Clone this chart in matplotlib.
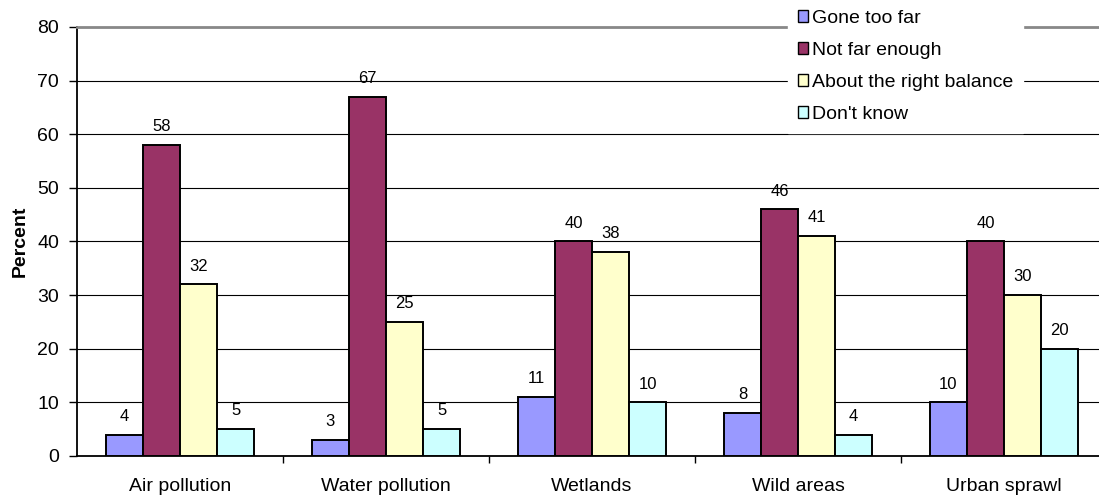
import numpy as np
import matplotlib.pyplot as plt

plt.rcParams['font.family'] = ['Liberation Sans', 'DejaVu Sans']

categories = ['Air pollution', 'Water pollution', 'Wetlands', 'Wild areas', 'Urban sprawl']
series_names = ['Gone too far', 'Not far enough', 'About the right balance', "Don't know"]
gone_too_far = [4, 3, 11, 8, 10]
not_far_enough = [58, 67, 40, 46, 40]
right_balance = [32, 25, 38, 41, 30]
dont_know = [5, 5, 10, 4, 20]
colors = ['#9999FF', '#993366', '#FFFFCC', '#CCFFFF']

fig = plt.figure(figsize=(10.99, 4.97), dpi=100)
ax = fig.add_axes([77/1099, 1 - 456/497, 1030/1099, 429/497])

x = np.arange(len(categories))
w = 0.18
all_series = [gone_too_far, not_far_enough, right_balance, dont_know]
for i, (vals, name, c) in enumerate(zip(all_series, series_names, colors)):
    bars = ax.bar(x + (i - 1.5) * w, vals, w, color=c, edgecolor='black', linewidth=1.4,
                  label=name, zorder=3)
    for b, v in zip(bars, vals):
        ax.text(b.get_x() + b.get_width() / 2, v + 2.0, str(v), ha='center', va='bottom',
                fontsize=12)

ax.set_xlim(-0.5, len(categories) - 0.5)
ax.set_ylim(0, 80)
ax.set_yticks(range(0, 81, 10))
ax.set_xticks(x)
ax.set_xticklabels(categories, fontsize=14)
ax.set_xticks(np.arange(len(categories)) + 0.5, minor=True)
ax.tick_params(axis='x', which='major', length=0, pad=16)
ax.tick_params(axis='x', which='minor', length=5, width=1, color='black')
ax.tick_params(axis='y', length=6, width=1, labelsize=14, pad=7)
ax.grid(axis='y', color='black', linewidth=0.8, zorder=0)
ax.spines['right'].set_visible(False)
ax.spines['top'].set_color('#888888')
ax.spines['top'].set_linewidth(2)
ax.spines['left'].set_linewidth(1.3)
ax.spines['bottom'].set_linewidth(1.3)
ax.set_ylabel('Percent', fontsize=14, fontweight='bold', labelpad=6)

leg = fig.legend(loc='upper left', bbox_to_anchor=(788/1099, 1.0), fontsize=14,
                 frameon=True, fancybox=False, handlelength=0.55, handleheight=0.55,
                 handletextpad=0.2, labelspacing=0.78, borderpad=0.5, borderaxespad=0)
leg.get_frame().set_edgecolor('white')
leg.get_frame().set_facecolor('white')
leg.get_frame().set_alpha(1)
for h in leg.legend_handles:
    h.set_linewidth(1.0)

fig.savefig('out.png', dpi=100)
